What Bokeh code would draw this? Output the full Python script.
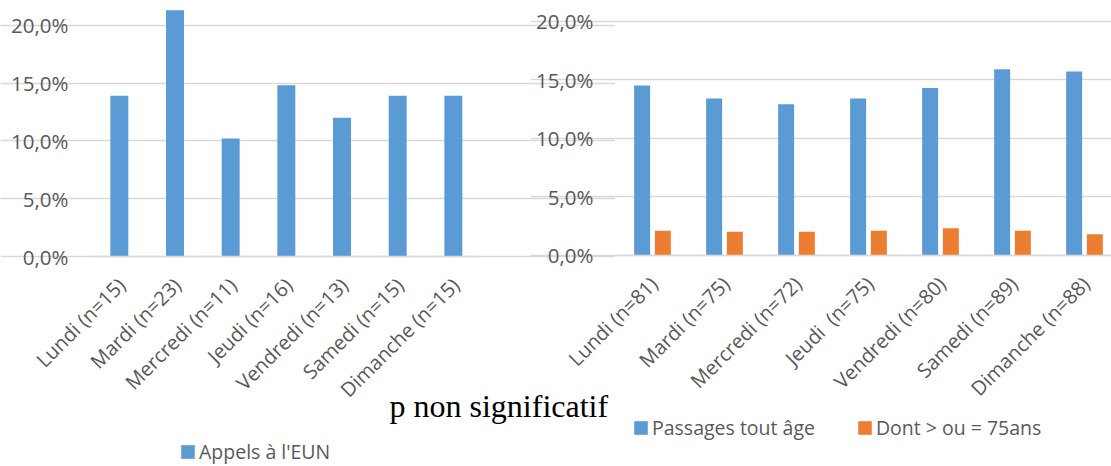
import math
from bokeh.plotting import figure
from bokeh.models import (Range1d, FixedTicker, CustomJSTickFormatter, Legend,
                          LegendItem, Label)
from bokeh.layouts import row
from bokeh.embed import file_html
from bokeh.resources import INLINE

# ---------------- data ----------------
left_categories = ["Lundi (n=15)", "Mardi (n=23)", "Mercredi (n=11)", "Jeudi (n=16)",
                   "Vendredi (n=13)", "Samedi (n=15)", "Dimanche (n=15)"]
appels_eun = [13.9, 21.3, 10.2, 14.8, 12.0, 13.9, 13.9]

right_categories = ["Lundi (n=81)", "Mardi (n=75)", "Mercredi (n=72)", "Jeudi\u00a0 (n=75)",
                    "Vendredi (n=80)", "Samedi (n=89)", "Dimanche (n=88)"]
passages_tout_age = [14.5, 13.4, 12.9, 13.4, 14.3, 15.9, 15.7]
dont_75_ans = [2.1, 2.0, 2.0, 2.1, 2.3, 2.1, 1.8]

y_ticks = [0, 5, 10, 15, 20]
y_tick_labels = ["0,0%", "5,0%", "10,0%", "15,0%", "20,0%"]

legend_left = "Appels à l'EUN"
legend_right = ["Passages tout âge", "Dont > ou = 75ans"]
note = "p non significatif"

# ---------------- style ----------------
FONT = "Open Sans"
FS_X = "20px"
FS_Y = "20.5px"
FS_LEG = "19.5px"
GRAY = "#595959"
GRID = "#D9D9D9"
BLUE = "#5B9BD5"
ORANGE = "#ED7D31"
H = 466


def style(p, cats, shift, bounds):
    p.outline_line_color = None
    p.background_fill_alpha = 0
    p.border_fill_color = None
    p.xgrid.grid_line_color = None
    p.ygrid.ticker = FixedTicker(ticks=y_ticks)
    p.ygrid.grid_line_color = GRID
    p.ygrid.grid_line_width = 1.3
    p.ygrid.bounds = bounds

    xa = p.xaxis[0]
    xa.fixed_location = 0
    xa.bounds = bounds
    xa.ticker = FixedTicker(ticks=[i + 0.5 + shift for i in range(len(cats))])
    xa.formatter = CustomJSTickFormatter(args=dict(labels=cats),
                                         code="return labels[index];")
    xa.axis_line_color = GRID
    xa.axis_line_width = 1.3
    xa.major_tick_line_color = None
    xa.minor_tick_line_color = None
    xa.major_tick_out = 0
    xa.major_tick_in = 0
    xa.major_label_orientation = math.pi / 4
    xa.major_label_standoff = 25
    xa.major_label_text_font = FONT
    xa.major_label_text_font_size = FS_X
    xa.major_label_text_color = GRAY

    ya = p.yaxis[0]
    ya.fixed_location = 0
    ya.ticker = FixedTicker(ticks=y_ticks)
    ya.major_label_overrides = dict(zip(y_ticks, y_tick_labels))
    ya.axis_line_color = None
    ya.major_tick_line_color = None
    ya.minor_tick_line_color = None
    ya.major_tick_out = 0
    ya.major_tick_in = 0
    ya.major_label_standoff = 23
    ya.major_label_text_font = FONT
    ya.major_label_text_font_size = FS_Y
    ya.major_label_text_color = GRAY


def make_legend(items, loc, spacing=0):
    return Legend(items=items, location=loc, orientation="horizontal",
                  glyph_width=17, glyph_height=17, label_standoff=3,
                  label_text_font=FONT, label_text_font_size=FS_LEG,
                  label_text_color=GRAY, label_height=17,
                  padding=0, margin=0, spacing=spacing,
                  border_line_color=None, background_fill_alpha=0)


# ---------------- left chart ----------------
n1 = len(left_categories)
px1 = 55.67          # pixels per category
py1 = 11.565         # pixels per percent
W1 = 615
p1 = figure(width=W1, height=H,
            x_range=Range1d(-91 / px1, (W1 - 91) / px1),
            y_range=Range1d(-(H - 256) / py1, 256 / py1),
            output_backend="svg", toolbar_location=None,
            min_border_left=0, min_border_right=0, min_border_top=0, min_border_bottom=0)
r1 = p1.vbar(x=[i + 0.5 for i in range(n1)], top=appels_eun, width=0.323,
             fill_color=BLUE, line_color=None)
style(p1, left_categories, 0.04, (0, n1))
p1.add_layout(make_legend([LegendItem(label=legend_left, renderers=[r1])], (179, 1)), "center")
p1.add_layout(Label(x=389, y=61, x_units="screen", y_units="screen", text=note,
                    text_font="Liberation Serif", text_font_size="32px", text_color="black",
                    text_baseline="alphabetic"))

# ---------------- right chart ----------------
n2 = len(right_categories)
px2 = 72.0
py2 = 11.7
X2 = 530
W2 = 1111 - X2
p2 = figure(width=W2, height=H,
            x_range=Range1d(-(616 - X2) / px2, (1111 - 616) / px2),
            y_range=Range1d(-(H - 254.7) / py2, 254.7 / py2),
            output_backend="svg", toolbar_location=None,
            min_border_left=0, min_border_right=0, min_border_top=0, min_border_bottom=0)
rb = p2.vbar(x=[i + 0.5 - 0.144 for i in range(n2)], top=passages_tout_age, width=0.222,
             fill_color=BLUE, line_color=None)
ro = p2.vbar(x=[i + 0.5 + 0.144 for i in range(n2)], top=dont_75_ans, width=0.222,
             fill_color=ORANGE, line_color=None)
style(p2, right_categories, 0.02, (0, (1111 - 616) / px2))
p2.add_layout(make_legend([LegendItem(label=legend_right[0], renderers=[rb]),
                           LegendItem(label=legend_right[1], renderers=[ro])],
                          (102, 25), spacing=41), "center")
p2.margin = (0, 0, 0, X2 - W1)

layout = row(p1, p2)
open("out.html", "w").write(file_html(layout, INLINE))
